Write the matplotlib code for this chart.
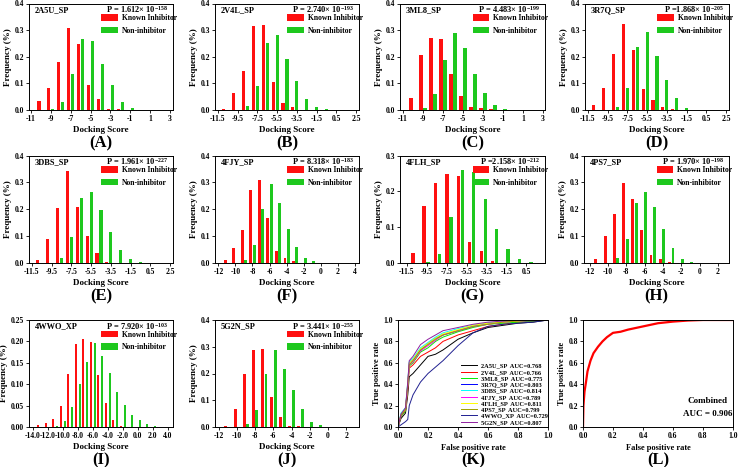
import numpy as np
import matplotlib
matplotlib.use('Agg')
import matplotlib.pyplot as plt

plt.rcParams['font.family'] = 'Liberation Serif'
plt.rcParams['font.weight'] = 'bold'
plt.rcParams['axes.labelweight'] = 'bold'
plt.rcParams['mathtext.default'] = 'regular'
plt.rcParams['axes.linewidth'] = 0.7

W, H = 738, 467
RED = '#ff1010'
GREEN = '#1ec81e'

# ---- docking score histograms (frequency of each bin) ----
names = ['2A5U_SP', '2V4L_SP', '3ML8_SP', '3R7Q_SP', '3DBS_SP',
         '4FJY_SP', '4FLH_SP', '4PS7_SP', '4WWO_XP', '5G2N_SP']
p_mant = ['1.612', '2.740', '4.483', '1.868', '1.961',
          '8.318', '2.158', '1.970', '7.920', '3.441']
p_exp = ['-158', '-193', '-199', '-205', '-227',
         '-183', '-212', '-198', '-103', '-255']
p_eq = ['P = ', 'P = ', 'P = ', 'P =', 'P = ', 'P = ', 'P =', 'P = ', 'P = ', 'P = ']

a_bins = [-10, -9, -8, -7, -6, -5, -4, -3, -2, -1]
a_red = [0.035, 0.081, 0.18, 0.307, 0.247, 0.095, 0.041, 0.005, 0.004, 0]
a_green = [0, 0.003, 0.03, 0.135, 0.265, 0.258, 0.173, 0.093, 0.03, 0.008]

b_bins = [-10.7, -9.7, -8.7, -7.7, -6.7, -5.7, -4.7, -3.7, -2.7, -1.7, -0.7]
b_red = [0.004, 0.063, 0.145, 0.317, 0.32, 0.105, 0.028, 0.012, 0, 0, 0]
b_green = [0, 0, 0.015, 0.09, 0.253, 0.283, 0.193, 0.11, 0.041, 0.01, 0.002]

c_bins = [-10, -9, -8, -7, -6, -5, -4, -3, -2, -1]
c_red = [0.046, 0.206, 0.269, 0.265, 0.134, 0.054, 0.011, 0.009, 0.002, 0]
c_green = [0, 0.006, 0.059, 0.186, 0.29, 0.234, 0.136, 0.062, 0.018, 0.005]

d_bins = [-10.7, -9.7, -8.7, -7.7, -6.7, -5.7, -4.7, -3.7, -2.7, -1.7, -0.7]
d_red = [0.018, 0.081, 0.212, 0.322, 0.227, 0.08, 0.039, 0.012, 0.003, 0, 0]
d_green = [0, 0, 0.011, 0.084, 0.238, 0.292, 0.201, 0.113, 0.045, 0.009, 0]

e_bins = [-10.7, -9.7, -8.7, -7.7, -6.7, -5.7, -4.7, -3.7, -2.7, -1.7, -0.7]
e_red = [0.01, 0.088, 0.205, 0.344, 0.21, 0.101, 0.037, 0.005, 0, 0, 0]
e_green = [0, 0, 0.017, 0.098, 0.241, 0.264, 0.199, 0.116, 0.048, 0.014, 0.003]

f_bins = [-11, -10, -9, -8, -7, -6, -5, -4, -3, -2, -1]
f_red = [0.011, 0.054, 0.122, 0.272, 0.309, 0.169, 0.044, 0.017, 0.006, 0, 0]
f_green = [0, 0, 0.01, 0.068, 0.2, 0.293, 0.222, 0.126, 0.06, 0.017, 0.006]

g_bins = [-10.7, -9.58, -8.43, -7.27, -6.12, -4.97, -3.83, -2.69, -1.53, -0.37, 0.79]
g_red = [0.029, 0.158, 0.223, 0.248, 0.243, 0.059, 0.033, 0.006, 0, 0, 0]
g_green = [0, 0.003, 0.026, 0.129, 0.259, 0.255, 0.179, 0.096, 0.04, 0.012, 0.003]

h_bins = [-11.1, -10.1, -9.1, -8.1, -7.1, -6.1, -5.1, -4.1, -3.1, -2.1, -1.1]
h_red = [0.014, 0.1, 0.181, 0.297, 0.237, 0.123, 0.028, 0.016, 0.005, 0, 0]
h_green = [0, 0, 0.019, 0.089, 0.223, 0.264, 0.207, 0.125, 0.056, 0.016, 0.005]

i_bins = [-13, -12, -11, -10, -9, -8, -7, -6, -5, -4, -3, -2, -1, 0, 1, 2]
i_red = [0.004, 0.009, 0.019, 0.05, 0.123, 0.195, 0.205, 0.199, 0.121, 0.056,
         0.016, 0.003, 0, 0, 0, 0]
i_green = [0, 0, 0.002, 0.015, 0.046, 0.1, 0.153, 0.197, 0.167, 0.127,
           0.082, 0.051, 0.027, 0.016, 0.007, 0.002]

j_bins = [-11, -10, -9, -8, -7, -6, -5, -4, -3, -2, -1]
j_red = [0.004, 0.069, 0.2, 0.286, 0.29, 0.112, 0.036, 0.005, 0.005, 0, 0]
j_green = [0, 0, 0.01, 0.062, 0.197, 0.288, 0.218, 0.137, 0.067, 0.017, 0.007]

odd_ticks = [-11, -9, -7, -5, -3, -1, 1, 3]
half_ticks = [-11.5, -9.5, -7.5, -5.5, -3.5, -1.5, 0.5, 2.5]
g_ticks = [-11.5, -9.5, -7.5, -5.5, -3.5, -1.5, 0.5]
f_ticks = [-12, -10, -8, -6, -4, -2, 0, 2, 4]
even_ticks = [-12, -10, -8, -6, -4, -2, 0, 2]
i_ticks = [-14, -12, -10, -8, -6, -4, -2, 0, 2, 4]

# ---- ROC curves ----
roc_fpr = [0, 0.02, 0.05, 0.065, 0.075, 0.1, 0.15, 0.2, 0.25, 0.3, 0.4, 0.5, 0.6, 0.7, 0.8, 0.9, 1.0]
roc_tpr = {
    '2A5U_SP': [0, 0.08, 0.13, 0.3, 0.47, 0.5, 0.58, 0.66, 0.68, 0.72, 0.82, 0.88, 0.93, 0.95, 0.97, 0.98, 1.0],
    '2V4L_SP': [0, 0.1, 0.15, 0.35, 0.55, 0.58, 0.66, 0.7, 0.74, 0.8, 0.86, 0.9, 0.94, 0.96, 0.98, 0.99, 1.0],
    '3ML8_SP': [0, 0.1, 0.15, 0.38, 0.57, 0.6, 0.7, 0.74, 0.8, 0.84, 0.89, 0.93, 0.96, 0.97, 0.98, 0.99, 1.0],
    '3R7Q_SP': [0, 0.12, 0.17, 0.4, 0.6, 0.63, 0.72, 0.78, 0.83, 0.86, 0.9, 0.94, 0.97, 0.98, 0.99, 0.995, 1.0],
    '3DBS_SP': [0, 0.13, 0.18, 0.42, 0.61, 0.64, 0.74, 0.79, 0.84, 0.88, 0.92, 0.95, 0.97, 0.98, 0.99, 1.0, 1.0],
    '4FJY_SP': [0, 0.11, 0.16, 0.38, 0.58, 0.61, 0.71, 0.76, 0.81, 0.86, 0.9, 0.94, 0.96, 0.98, 0.99, 0.995, 1.0],
    '4FLH_SP': [0, 0.12, 0.17, 0.4, 0.6, 0.63, 0.73, 0.78, 0.83, 0.87, 0.91, 0.95, 0.97, 0.98, 0.99, 1.0, 1.0],
    '4PS7_SP': [0, 0.11, 0.16, 0.39, 0.58, 0.62, 0.72, 0.77, 0.82, 0.86, 0.9, 0.94, 0.96, 0.98, 0.99, 0.995, 1.0],
    '4WWO_XP': [0, 0.02, 0.05, 0.07, 0.2, 0.3, 0.42, 0.5, 0.56, 0.62, 0.76, 0.88, 0.94, 0.96, 0.97, 0.98, 1.0],
    '5G2N_SP': [0, 0.12, 0.18, 0.42, 0.62, 0.66, 0.77, 0.82, 0.86, 0.9, 0.93, 0.96, 0.98, 0.99, 1.0, 1.0, 1.0],
}
roc_auc = ['0.768', '0.766', '0.775', '0.803', '0.814', '0.789', '0.811', '0.799', '0.729', '0.807']
roc_colors = ['black', 'red', '#00ee00', 'blue', 'cyan', 'magenta', 'yellow', '#a0a000', '#202090', '#9020a0']

comb_fpr = [0, 0.003, 0.01, 0.02, 0.03, 0.05, 0.07, 0.1, 0.13, 0.16, 0.2, 0.25, 0.3, 0.4, 0.5, 0.6, 0.7, 0.8, 1.0]
comb_tpr = [0, 0.2, 0.33, 0.42, 0.52, 0.62, 0.69, 0.75, 0.8, 0.84, 0.88, 0.89, 0.91, 0.94, 0.97, 0.985, 0.995, 1.0, 1.0]

fig = plt.figure(figsize=(W / 100, H / 100), dpi=100)


def px_axes(l, t, r, b):
    return fig.add_axes([l / W, 1 - b / H, (r - l) / W, (b - t) / H])


def letter(ax, txt, dy=33):
    pos = ax.get_position()
    fig.text((pos.x0 + pos.x1) / 2, pos.y0 - dy / H, txt, ha='center', va='center',
             fontsize=12, fontweight='bold')


def hist_panel(rect, k, bins, red, green, xlim, xticks, fmt, lab, ymax=0.4, ystep=0.1,
               yfmt='%.1f', off=0.2, wid=0.32):
    ax = px_axes(*rect)
    bins = np.array(bins, dtype=float)
    ax.bar(bins - off, red, wid, color=RED, label='Known Inhibitor')
    ax.bar(bins + off, green, wid, color=GREEN, label='Non-inhibitor')
    ax.set_xlim(*xlim)
    ax.set_ylim(0, ymax)
    ax.set_xticks(xticks)
    ax.set_xticklabels([fmt % t for t in xticks])
    yt = np.arange(0, ymax + 1e-9, ystep)
    ax.set_yticks(yt)
    ax.set_yticklabels([yfmt % t for t in yt])
    ax.tick_params(labelsize=5.5, length=2, width=0.6, pad=1.5)
    ax.set_xlabel('Docking Score', fontsize=6.5, labelpad=2)
    ax.set_ylabel('Frequency (%)', fontsize=6.5, labelpad=2)
    ax.text(0.04, 0.94, names[k], transform=ax.transAxes, fontsize=6, va='center', ha='left')
    ax.text(0.965, 0.94, p_eq[k] + p_mant[k] + '× 10$^{' + p_exp[k] + '}$',
            transform=ax.transAxes, fontsize=6, va='center', ha='right')
    ax.legend(loc='upper left', bbox_to_anchor=(0.5, 0.9), frameon=False, fontsize=5.5,
              handlelength=2.2, handleheight=0.9, handletextpad=0.5, labelspacing=0.6,
              borderpad=0, borderaxespad=0)
    letter(ax, lab)
    return ax


hist_panel((29, 3.5, 173, 110), 0, a_bins, a_red, a_green, (-11.2, 3.3), odd_ticks, '%d', '(A)')
hist_panel((215, 3.5, 359, 110), 1, b_bins, b_red, b_green, (-11.8, 2.8), half_ticks, '%.1f', '(B)')
hist_panel((400, 3.5, 545, 110), 2, c_bins, c_red, c_green, (-11.3, 3.2), odd_ticks, '%d', '(C)')
hist_panel((585, 3.5, 729, 110), 3, d_bins, d_red, d_green, (-11.8, 2.8), half_ticks, '%.1f', '(D)')

hist_panel((29, 155.5, 173, 263), 4, e_bins, e_red, e_green, (-11.8, 2.8), half_ticks, '%.1f', '(E)')
hist_panel((215, 155.5, 359, 263), 5, f_bins, f_red, f_green, (-12.4, 4.5), f_ticks, '%d', '(F)')
hist_panel((400, 155.5, 545, 263), 6, g_bins, g_red, g_green, (-12.2, 2.4), g_ticks, '%.1f', '(G)',
           ymax=0.3)
hist_panel((584, 155.5, 729, 263), 7, h_bins, h_red, h_green, (-12.6, 3.2), even_ticks, '%d', '(H)')

hist_panel((29, 320, 173, 427), 8, i_bins, i_red, i_green, (-14.5, 4.7), i_ticks, '%.1f', '(I)',
           ymax=0.25, ystep=0.05, yfmt='%.2f', off=0.24, wid=0.27)
hist_panel((215, 320, 359, 427), 9, j_bins, j_red, j_green, (-12.4, 3.4), even_ticks, '%d', '(J)')

# ---- (K) ROC of every receptor ----
ax = px_axes(398, 320, 548, 427)
for n, col, auc in zip(names, roc_colors, roc_auc):
    ax.plot(roc_fpr, roc_tpr[n], color=col, lw=0.7, label=n + '  AUC=' + auc)
ax.set_xlim(0, 1)
ax.set_ylim(0, 1)
ticks = [0, 0.2, 0.4, 0.6, 0.8, 1.0]
ax.set_xticks(ticks)
ax.set_yticks(ticks)
ax.set_xticklabels(['%.1f' % t for t in ticks])
ax.set_yticklabels(['%.1f' % t for t in ticks])
ax.tick_params(labelsize=5.5, length=2, width=0.6, pad=1.5)
ax.set_xlabel('False positive rate', fontsize=6, labelpad=3)
ax.set_ylabel('True positive rate', fontsize=6, labelpad=2)
ax.legend(loc='lower right', bbox_to_anchor=(1.0, 0.02), frameon=False, fontsize=4.6,
          handlelength=2.6, handletextpad=0.6, labelspacing=0.12, borderpad=0, borderaxespad=0)
letter(ax, '(K)')

# ---- (L) combined ROC ----
ax = px_axes(583, 320, 733, 427)
ax.plot(comb_fpr, comb_tpr, color='red', lw=1.6)
ax.set_xlim(0, 1)
ax.set_ylim(0, 1)
ax.set_xticks(ticks)
ax.set_yticks(ticks)
ax.set_xticklabels(['%.1f' % t for t in ticks])
ax.set_yticklabels(['%.1f' % t for t in ticks])
ax.tick_params(labelsize=5.5, length=2, width=0.6, pad=1.5)
ax.set_xlabel('False positive rate', fontsize=6, labelpad=3)
ax.set_ylabel('True positive rate', fontsize=6, labelpad=2)
ax.text(0.83, 0.24, 'Combined', transform=ax.transAxes, fontsize=6.5, ha='center', va='center')
ax.text(0.83, 0.12, 'AUC = 0.906', transform=ax.transAxes, fontsize=6.5, ha='center', va='center')
letter(ax, '(L)')

fig.savefig('out.png', dpi=100)
